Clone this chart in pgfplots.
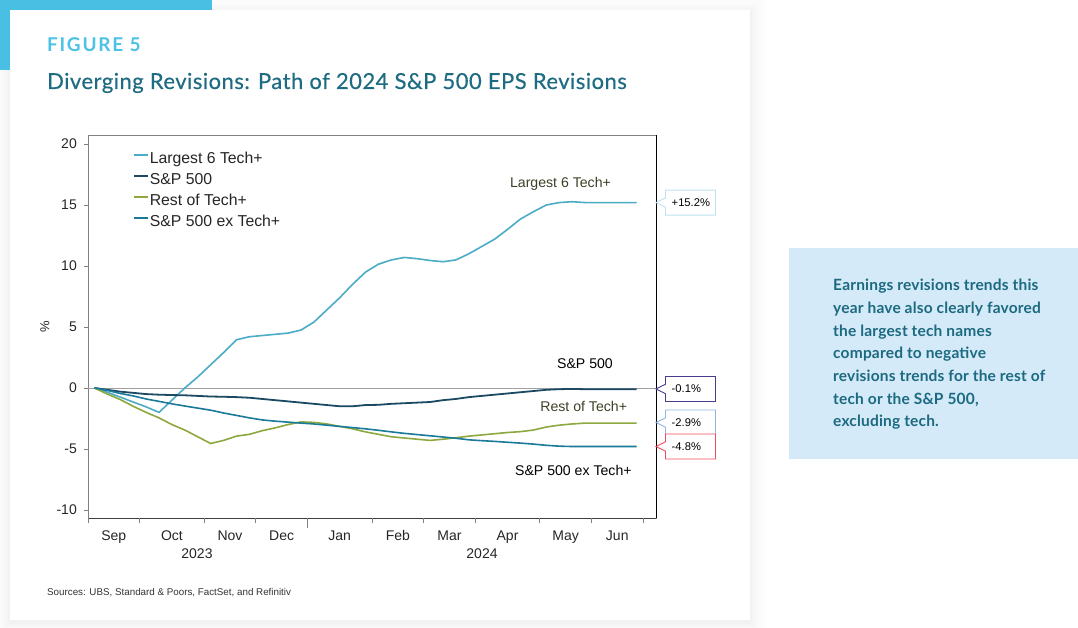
\documentclass[border=0pt]{standalone}
\usepackage{fontspec}
\setmainfont{Liberation Sans}
\newfontfamily\lato{Lato}
\newfontfamily\latopara[LetterSpace=1.2]{Lato}
\newfontfamily\latotitle[FakeBold=0.35, LetterSpace=2.2]{Lato}
\newfontfamily\latofig[LetterSpace=9]{Lato}
\usepackage{pgfplots}
\usepackage{pgfplotstable}
\pgfplotsset{compat=1.18}
\definecolor{cL6}{HTML}{4BACC6}
\definecolor{cSP}{HTML}{1B4A62}
\definecolor{cRT}{HTML}{8CA83E}
\definecolor{cEX}{HTML}{1B7A99}
\definecolor{cyanbar}{HTML}{48BFE3}
\definecolor{figc}{HTML}{4CC2E6}
\definecolor{titlec}{HTML}{1E6C82}
\definecolor{parac}{HTML}{1C6A80}
\definecolor{boxfill}{HTML}{D4EAF8}
\definecolor{labc}{HTML}{3F3F26}
\definecolor{tickc}{HTML}{262626}
\definecolor{framec}{HTML}{808080}
\definecolor{framed}{HTML}{404040}
\definecolor{zeroc}{HTML}{A0A0A0}
\definecolor{srcc}{HTML}{333333}
\definecolor{co1}{HTML}{BFE1F1}
\definecolor{co2}{HTML}{4A3C8C}
\definecolor{co3}{HTML}{8EB4E3}
\definecolor{co4}{HTML}{EF4C5B}

\pgfplotstableread{
w L6 SP RT EX
0.5 0 0 0 0
1.5 -0.35 -0.15 -0.5 -0.2
2.5 -0.75 -0.3 -0.95 -0.45
3.5 -1.15 -0.4 -1.5 -0.65
4.5 -1.55 -0.5 -2.0 -0.9
5.5 -2.0 -0.55 -2.45 -1.1
6.5 -1.0 -0.58 -3.0 -1.3
7.5 0.0 -0.6 -3.45 -1.48
8.5 0.9 -0.65 -4.0 -1.65
9.5 1.9 -0.7 -4.55 -1.82
10.5 2.9 -0.72 -4.3 -2.05
11.5 3.95 -0.75 -3.95 -2.25
12.5 4.2 -0.8 -3.8 -2.45
13.5 4.3 -0.9 -3.5 -2.62
14.5 4.4 -1.0 -3.27 -2.72
15.5 4.5 -1.1 -3.0 -2.8
16.5 4.75 -1.2 -2.78 -2.88
17.5 5.4 -1.3 -2.82 -2.95
18.5 6.4 -1.4 -2.95 -3.05
19.5 7.4 -1.5 -3.15 -3.15
20.5 8.5 -1.5 -3.35 -3.25
21.5 9.5 -1.4 -3.6 -3.35
22.5 10.15 -1.38 -3.8 -3.47
23.5 10.5 -1.3 -4.0 -3.6
24.5 10.7 -1.25 -4.1 -3.72
25.5 10.6 -1.2 -4.2 -3.82
26.5 10.45 -1.15 -4.3 -3.92
27.5 10.35 -1.0 -4.2 -4.02
28.5 10.5 -0.9 -4.08 -4.12
29.5 11.0 -0.75 -3.95 -4.25
30.5 11.6 -0.65 -3.85 -4.32
31.5 12.2 -0.55 -3.75 -4.38
32.5 13.0 -0.45 -3.65 -4.45
33.5 13.85 -0.35 -3.58 -4.52
34.5 14.45 -0.25 -3.45 -4.6
35.5 15.0 -0.15 -3.2 -4.7
36.5 15.2 -0.1 -3.05 -4.77
37.5 15.27 -0.08 -2.95 -4.8
38.5 15.2 -0.1 -2.88 -4.8
39.5 15.2 -0.1 -2.88 -4.8
40.5 15.2 -0.1 -2.88 -4.8
41.5 15.2 -0.1 -2.88 -4.8
42.5 15.2 -0.1 -2.88 -4.8
}\revdata

\newcommand\callout[3]{%
  \draw[draw=#2, line width=0.9pt, fill=white] (axis cs:44,#1) -- ++(9.5pt,4.7pt) -- ++(0pt,7.8pt) -- ++(50pt,0pt) -- ++(0pt,-25pt) -- ++(-50pt,0pt) -- ++(0pt,7.8pt) -- cycle;
  \node[font=\fontsize{11.2}{11.2}\selectfont, anchor=west, inner sep=0pt, text=black] at ([xshift=15.5pt]axis cs:44,#1) {#3};%
}

\begin{document}
\begin{tikzpicture}
\begin{scope}[x=1pt,y=-1pt]
\fill[white] (0,0) rectangle (1078,628);
\foreach \d/\op in {16/0.006,12/0.007,8/0.009,5/0.011,2/0.014} {\fill[black,opacity=\op] (10-\d,10-\d+2) rectangle (750+\d,620+\d+2);}
\fill[cyanbar] (0,0) rectangle (212,70);
\fill[white] (10,10) rectangle (750,620);
\fill[boxfill] (789,248) rectangle (1078,459);
\node[anchor=base west, inner sep=0pt, text=figc, font=\latofig\bfseries\fontsize{19}{19}\selectfont] at (47,52) {FIGURE 5};
\node[anchor=base west, inner sep=0pt, text=titlec, font=\latotitle\fontsize{22}{22}\selectfont] at (47,89) {Diverging Revisions: Path of 2024 S\&P 500 EPS Revisions};
\begin{scope}[every node/.style={anchor=base west, inner sep=0pt, text=parac, font=\latopara\bfseries\fontsize{15.5}{15.5}\selectfont}]
\node at (833,290.7) {Earnings revisions trends this};
\node at (833,313.4) {year have also clearly favored};
\node at (833,336.0) {the largest tech names};
\node at (833,358.7) {compared to negative};
\node at (833,381.4) {revisions trends for the rest of};
\node at (833,404.0) {tech or the S\&P 500,};
\node at (833,426.7) {excluding tech.};
\end{scope}
\node[anchor=base west, inner sep=0pt, text=srcc, font=\fontsize{9.8}{9.8}\selectfont] at (47,595) {Sources: UBS, Standard \& Poors, FactSet, and Refinitiv};
\node[inner sep=0pt, text=tickc, font=\fontsize{14}{14}\selectfont] at (197,554) {2023};
\node[inner sep=0pt, text=tickc, font=\fontsize{14}{14}\selectfont] at (482,554) {2024};
\end{scope}

\begin{axis}[
  at={(88pt,-518pt)}, anchor=south west,
  scale only axis, width=568pt, height=383pt,
  xmin=0, xmax=44, ymin=-10.66, ymax=20.74,
  clip=false,
  axis line style={draw=framec, line width=0.8pt},
  tick align=outside, major tick length=4pt,
  ytick={-10,-5,0,5,10,15,20}, ytick pos=left,
  ytick style={draw=framec, line width=0.8pt},
  yticklabel style={font=\fontsize{14}{14}\selectfont, text=tickc, inner sep=0pt, xshift=-7pt},
  xtick={2,6.5,11,15,19.5,24,28,32.5,37,41},
  xticklabels={Sep,Oct,Nov,Dec,Jan,Feb,Mar,Apr,May,Jun},
  xtick style={draw=none}, xtick pos=left,
  xticklabel style={font=\fontsize{14}{14}\selectfont, text=tickc, inner sep=0pt, text height=10pt, text depth=3pt, yshift=-8pt},
  /pgf/number format/assume math mode=true,
  ylabel={\%},
  ylabel style={at={(axis description cs:-0.0757,0.4987)}, anchor=center, font=\fontsize{13}{13}\selectfont, text=tickc},
  legend style={at={(axis description cs:0.0792,0.956)}, anchor=north west, draw=none, fill=none, inner sep=0pt, font=\fontsize{15.8}{15.8}\selectfont, text=tickc, nodes={inner xsep=1pt, inner ysep=0pt, text height=11.3pt, text depth=3.4pt}, row sep=6.3pt},
  legend cell align=left,
  legend image code/.code={\draw[#1, line width=1.6pt] (0pt,4.5pt) -- (14pt,4.5pt);},
]
\addplot[forget plot, draw=zeroc, line width=0.8pt] coordinates {(0,0) (44,0)};
\addplot[cL6, line width=1.6pt] table[x=w,y=L6]{\revdata};
\addlegendentry{Largest 6 Tech+}
\addplot[cSP, line width=1.8pt] table[x=w,y=SP]{\revdata};
\addlegendentry{S\&P 500}
\addplot[cRT, line width=1.6pt] table[x=w,y=RT]{\revdata};
\addlegendentry{Rest of Tech+}
\addplot[cEX, line width=1.6pt] table[x=w,y=EX]{\revdata};
\addlegendentry{S\&P 500 ex Tech+}
\draw[black, line width=0.8pt] (rel axis cs:1,0) -- (rel axis cs:1,1);
\draw[framed, line width=0.8pt] (rel axis cs:0,0) -- (rel axis cs:1,0);
\node[font=\fontsize{14.1}{14.1}\selectfont, text=labc] at (axis cs:36.6,16.76) {Largest 6 Tech+};
\node[font=\fontsize{14.1}{14.1}\selectfont, text=black] at (axis cs:38.5,2.0) {S\&P 500};
\node[font=\fontsize{14.1}{14.1}\selectfont, text=labc] at (axis cs:38.4,-1.52) {Rest of Tech+};
\node[font=\fontsize{14.1}{14.1}\selectfont, text=black] at (axis cs:37.6,-6.74) {S\&P 500 ex Tech+};
\callout{15.2}{co1}{+15.2\%}
\callout{-0.08}{co2}{-0.1\%}
\callout{-2.83}{co3}{-2.9\%}
\callout{-4.8}{co4}{-4.8\%}
\end{axis}

\begin{axis}[
  at={(88pt,-518pt)}, anchor=south west,
  scale only axis, width=568pt, height=383pt,
  xmin=0, xmax=44, ymin=-10.66, ymax=20.74,
  axis x line=bottom, axis y line=none,
  x axis line style={-, draw=none},
  ytick=\empty,
  xtick={17}, xticklabels={},
  minor xtick={0,4,9,13,22,26,30,35,39,43},
  tick align=outside, major tick length=10pt, minor tick length=5pt,
  xtick style={draw=framec, line width=0.8pt},
]
\end{axis}

\pgfresetboundingbox
\path[use as bounding box] (0pt,0pt) rectangle (1078pt,-628pt);
\end{tikzpicture}
\end{document}
